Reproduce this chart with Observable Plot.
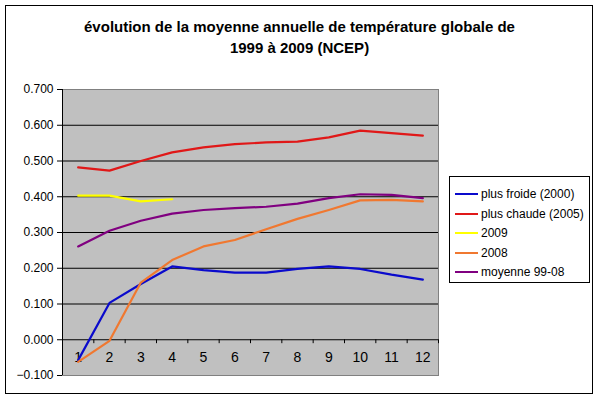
<!DOCTYPE html>
<html>
<head>
<meta charset="utf-8">
<script src="https://cdn.jsdelivr.net/npm/d3@7"></script>
<script src="https://cdn.jsdelivr.net/npm/@observablehq/plot@0.6"></script>
<style>
  html, body { margin: 0; padding: 0; background: #fff; }
  #wrap { position: relative; width: 599px; height: 399px; font-family: "Liberation Sans", Arial, sans-serif; }
  #border { position: absolute; left: 5px; top: 5px; width: 586px; height: 387px; border: 1px solid #000; pointer-events: none; }
  #title { position: absolute; left: 0; top: 16px; width: 599px; text-align: center; font-size: 15px; font-weight: bold; line-height: 21px; color: #000; }
  #legend { position: absolute; left: 449px; top: 176px; width: 139px; height: 105px; border: 1px solid #000; background: #fff; font-size: 12px; }
  .row { position: absolute; left: 5px; height: 14px; display: flex; align-items: center; }
  .sw { width: 23px; height: 2px; margin-right: 3px; }
  #chart { position: absolute; left: 0; top: 0; }
</style>
</head>
<body>
<div id="wrap">
  <div id="chart"></div>
  <div id="title">évolution de la moyenne annuelle de température globale de<br>1999 à 2009 (NCEP)</div>
  <div id="legend"></div>
  <div id="border"></div>
</div>
<script>
const months = [1, 2, 3, 4, 5, 6, 7, 8, 9, 10, 11, 12];
const seriesNames = ["plus froide (2000)", "plus chaude (2005)", "2009", "2008", "moyenne 99-08"];
const seriesColors = ["#0a0acc", "#e01818", "#ffff00", "#f07830", "#800080"];
const froide2000 = [-0.057, 0.103, 0.156, 0.205, 0.195, 0.188, 0.188, 0.198, 0.205, 0.198, 0.182, 0.168];
const chaude2005 = [0.482, 0.473, 0.500, 0.524, 0.538, 0.547, 0.552, 0.554, 0.566, 0.585, 0.578, 0.571];
const an2009 = [0.403, 0.403, 0.387, 0.393];
const an2008 = [-0.062, -0.003, 0.160, 0.223, 0.261, 0.279, 0.309, 0.338, 0.363, 0.390, 0.391, 0.387];
const moyenne = [0.261, 0.305, 0.333, 0.353, 0.363, 0.368, 0.372, 0.381, 0.396, 0.407, 0.405, 0.396];
const yTicks = [-0.1, 0, 0.1, 0.2, 0.3, 0.4, 0.5, 0.6, 0.7];

const allSeries = [froide2000, chaude2005, an2009, an2008, moyenne];
const rows = [];
allSeries.forEach((vals, s) => vals.forEach((v, i) => rows.push({series: seriesNames[s], month: months[i], value: v})));
const boundaries = d3.range(months.length + 1).map(i => months[0] - 0.5 + i);

const chart = Plot.plot({
  width: 599,
  height: 399,
  marginLeft: 62,
  marginRight: 161,
  marginTop: 89,
  marginBottom: 24,
  style: {fontFamily: "'Liberation Sans', Arial, sans-serif", fontSize: "12px", color: "#000", background: "transparent"},
  x: {domain: [0.5, 12.5], axis: null},
  y: {domain: [-0.1, 0.7], ticks: yTicks, tickFormat: d3.format(".3f"), tickSize: 5, tickPadding: 4, label: null},
  color: {domain: seriesNames, range: seriesColors},
  marks: [
    Plot.frame({fill: "#c0c0c0", stroke: "#808080"}),
    Plot.ruleY(yTicks.filter(t => t > -0.1 && t < 0.7), {stroke: "#000", strokeWidth: 1}),
    Plot.ruleX([0.5], {stroke: "#000"}),
    Plot.ruleX(boundaries, {x: d => d, y1: 0, y2: -0.011, stroke: "#000"}),
    Plot.text(months, {x: d => d, y: 0, dy: 18, text: d => String(d), fill: "#000", fontSize: 14}),
    Plot.line(rows, {x: "month", y: "value", z: "series", stroke: "series", strokeWidth: 2.2})
  ]
});
document.getElementById("chart").appendChild(chart);

const legend = document.getElementById("legend");
seriesNames.forEach((name, i) => {
  const r = document.createElement("div");
  r.className = "row";
  r.style.top = (10 + i * 19.6) + "px";
  const sw = document.createElement("div");
  sw.className = "sw";
  sw.style.background = seriesColors[i];
  const t = document.createElement("span");
  t.textContent = name;
  r.appendChild(sw);
  r.appendChild(t);
  legend.appendChild(r);
});
</script>
</body>
</html>
